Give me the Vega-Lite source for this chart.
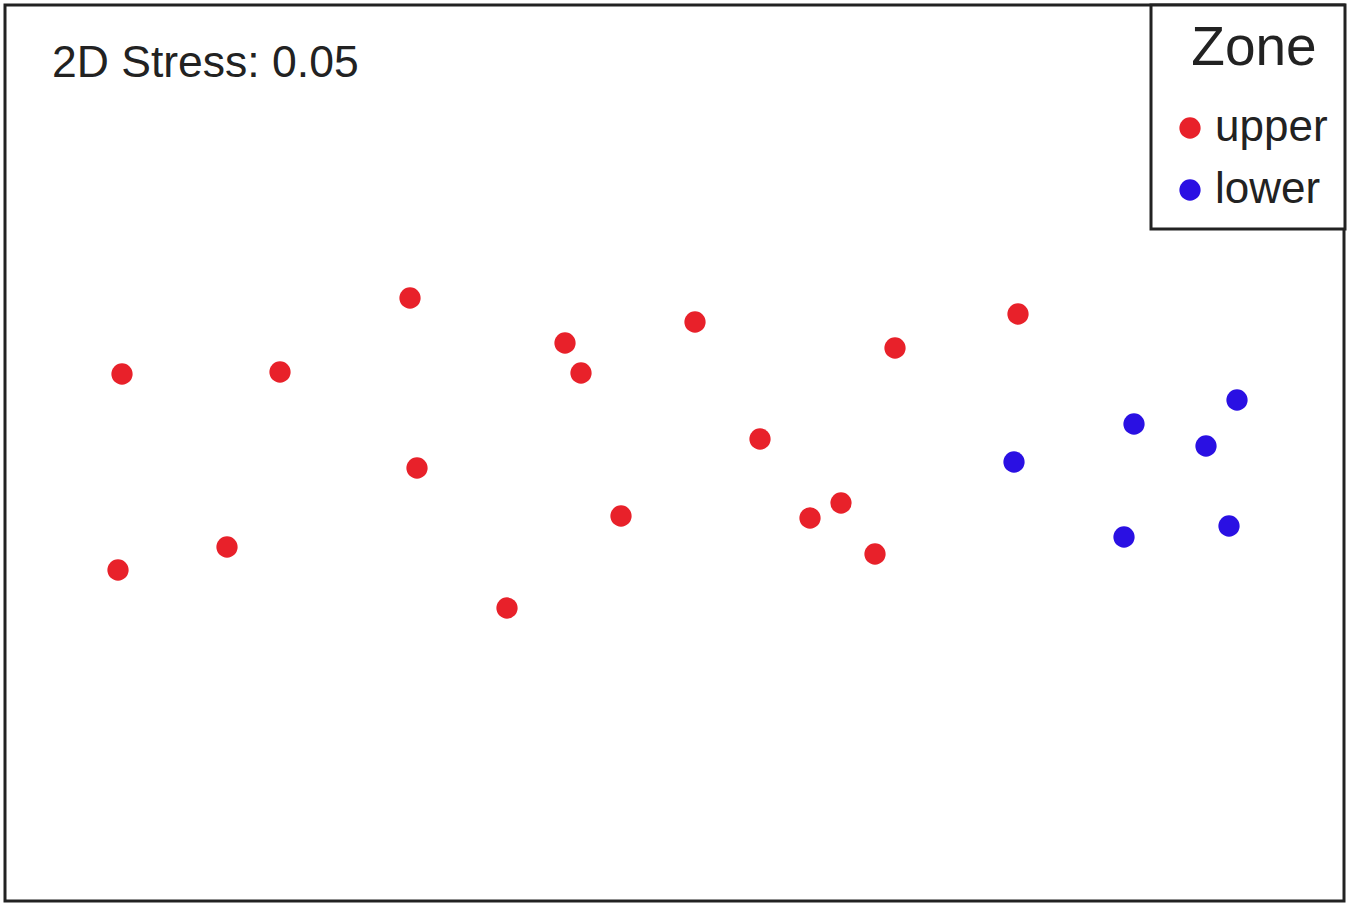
{
  "$schema": "https://vega.github.io/schema/vega-lite/v6.json",
  "width": 1339,
  "height": 896,
  "autosize": {"type": "none"},
  "padding": {"left": 5, "top": 5, "right": 7, "bottom": 6},
  "background": "white",
  "title": {
    "text": "2D Stress: 0.05",
    "anchor": "start",
    "frame": "group",
    "orient": "top",
    "offset": -118,
    "dx": 47,
    "baseline": "alphabetic",
    "font": "Liberation Sans",
    "fontSize": 44.5,
    "fontWeight": "normal",
    "color": "#222222"
  },
  "config": {
    "view": {"stroke": "#222222", "strokeWidth": 3},
    "font": "Liberation Sans"
  },
  "data": {
    "values": [
      {"MDS1": -1.106, "MDS2": 0.158, "Zone": "upper"},
      {"MDS1": -0.790, "MDS2": 0.162, "Zone": "upper"},
      {"MDS1": -0.530, "MDS2": 0.310, "Zone": "upper"},
      {"MDS1": -0.220, "MDS2": 0.220, "Zone": "upper"},
      {"MDS1": -0.188, "MDS2": 0.160, "Zone": "upper"},
      {"MDS1": 0.040, "MDS2": 0.262, "Zone": "upper"},
      {"MDS1": 0.440, "MDS2": 0.210, "Zone": "upper"},
      {"MDS1": 0.686, "MDS2": 0.278, "Zone": "upper"},
      {"MDS1": 0.170, "MDS2": 0.028, "Zone": "upper"},
      {"MDS1": -0.516, "MDS2": -0.030, "Zone": "upper"},
      {"MDS1": -0.108, "MDS2": -0.126, "Zone": "upper"},
      {"MDS1": 0.270, "MDS2": -0.130, "Zone": "upper"},
      {"MDS1": 0.332, "MDS2": -0.100, "Zone": "upper"},
      {"MDS1": 0.400, "MDS2": -0.202, "Zone": "upper"},
      {"MDS1": -0.896, "MDS2": -0.188, "Zone": "upper"},
      {"MDS1": -1.114, "MDS2": -0.234, "Zone": "upper"},
      {"MDS1": -0.336, "MDS2": -0.310, "Zone": "upper"},
      {"MDS1": 0.678, "MDS2": -0.018, "Zone": "lower"},
      {"MDS1": 0.918, "MDS2": 0.058, "Zone": "lower"},
      {"MDS1": 1.062, "MDS2": 0.014, "Zone": "lower"},
      {"MDS1": 1.124, "MDS2": 0.106, "Zone": "lower"},
      {"MDS1": 0.898, "MDS2": -0.168, "Zone": "lower"},
      {"MDS1": 1.108, "MDS2": -0.146, "Zone": "lower"}
    ]
  },
  "mark": {"type": "point", "shape": "circle", "filled": true, "opacity": 1, "size": 452, "strokeWidth": 0},
  "encoding": {
    "x": {"field": "MDS1", "type": "quantitative", "scale": {"domain": [-1.34, 1.338], "nice": false, "zero": false}, "axis": null},
    "y": {"field": "MDS2", "type": "quantitative", "scale": {"domain": [-0.896, 0.896], "nice": false, "zero": false}, "axis": null},
    "color": {
      "field": "Zone",
      "type": "nominal",
      "scale": {"domain": ["upper", "lower"], "range": ["#e8212a", "#2a10e3"]},
      "legend": {
        "orient": "none",
        "legendX": 1146,
        "legendY": 0,
        "title": "Zone",
        "titleFont": "Liberation Sans",
        "titleFontSize": 55,
        "titleFontWeight": "normal",
        "titleColor": "#222222",
        "titleAnchor": "middle",
        "titlePadding": 29,
        "labelFont": "Liberation Sans",
        "labelFontSize": 44,
        "labelColor": "#222222",
        "labelOffset": 3,
        "symbolType": "circle",
        "symbolSize": 452,
        "symbolStrokeWidth": 0,
        "symbolOpacity": 1,
        "rowPadding": 18,
        "padding": 17,
        "strokeColor": "#222222",
        "fillColor": "white",
        "cornerRadius": 0,
        "encode": {
          "legend": {"update": {"strokeWidth": {"value": 3}}},
          "title": {"update": {"dx": {"value": 6}}}
        }
      }
    }
  }
}
